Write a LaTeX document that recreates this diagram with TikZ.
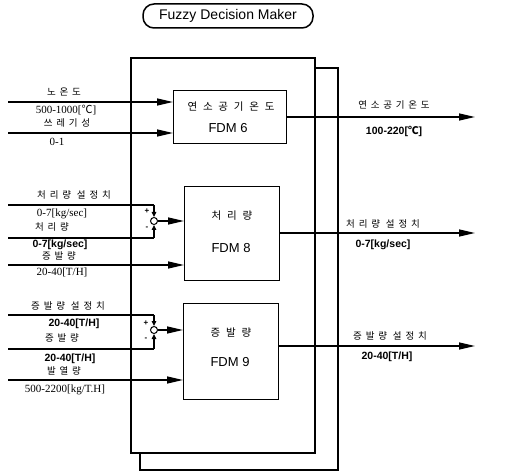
\documentclass[tikz,border=0pt]{standalone}
\usepackage{fontspec}
\setmainfont{Liberation Serif}
\setsansfont{Liberation Sans}
\newfontfamily\cjk[LetterSpace=40]{Noto Sans CJK KR}
\newfontfamily\cjkw[LetterSpace=55]{Noto Sans CJK KR}
\newfontfamily\cjkn{Noto Sans CJK KR}
\usetikzlibrary{arrows.meta}
\newcommand{\degc}{{\cjkn ℃}}
\begin{document}
\begin{tikzpicture}[x=1pt,y=-1pt,
  bigbox/.style={draw, line width=2pt, fill=white, inner sep=0pt, anchor=north west},
  fdm/.style={draw, line width=1.2pt, fill=white, inner sep=0pt, anchor=north west},
  conn/.style={line width=1.4pt, -{Triangle[length=16pt,width=7pt]}},
  sconn/.style={line width=1.2pt, -{Triangle[length=5pt,width=4.5pt]}},
  plain/.style={line width=1.4pt},
  kr/.style={font=\cjk\fontsize{9.5}{11}\selectfont, inner sep=0pt},
  krbox/.style={font=\cjkw\fontsize{10.5}{12}\selectfont, inner sep=0pt},
  snum/.style={font=\rmfamily\fontsize{11}{13}\selectfont, inner sep=0pt},
  bnum/.style={font=\sffamily\bfseries\fontsize{10.5}{12}\selectfont, inner sep=0pt},
  fdmlab/.style={font=\sffamily\fontsize{13}{15}\selectfont, inner sep=0pt},
  sign/.style={font=\sffamily\bfseries\fontsize{8}{9}\selectfont, inner sep=0pt}]
\useasboundingbox (0,0) rectangle (514,473);

% title
\node[draw, line width=1.5pt, rounded corners=11pt, minimum width=170pt, minimum height=24pt,
      font=\sffamily\fontsize{14}{16}\selectfont] (title) at (228,16) {Fuzzy Decision Maker};

% stacked frames
\node[bigbox, minimum width=198pt, minimum height=402pt] (back) at (139,67) {};
\node[bigbox, minimum width=184pt, minimum height=395pt] (main) at (130,57) {};

% FDM boxes
\node[fdm, minimum width=113pt, minimum height=53pt] (fdm6) at (173,90) {};
\node[fdm, minimum width=95pt, minimum height=94pt] (fdm8) at (184,186) {};
\node[fdm, minimum width=95pt, minimum height=96pt] (fdm9) at (183,303) {};

\node[krbox] (t6a) at (231,107) {연소공기온도};
\node[fdmlab] (t6b) at (228,128) {FDM 6};
\node[krbox] (t8a) at (232,216) {처리량};
\node[fdmlab] (t8b) at (231,248) {FDM 8};
\node[krbox] (t9a) at (231,333) {증발량};
\node[fdmlab] (t9b) at (230,362) {FDM 9};

% FDM 6 inputs
\coordinate (a1) at (8,102);
\coordinate (a2) at (8,133);
\draw[conn] (a1) -- (a1 -| fdm6.west);
\draw[conn] (a2) -- (a2 -| fdm6.west);
\node[kr] (la1) at (64,92) {노온도};
\node[snum] (la2) at (66,110) {500-1000[\degc]};
\node[kr] (la3) at (67,123) {쓰레기성};
\node[snum] (la4) at (57,142) {0-1};

% FDM 8 inputs
\node[draw, circle, line width=1pt, fill=white, minimum size=7pt, inner sep=0pt] (j8) at (154,221) {};
\coordinate (b1) at (8,205);
\coordinate (b2) at (8,238);
\coordinate (b3) at (8,265);
\draw[plain] (b1) -- (b1 -| j8.north);
\draw[sconn] (b1 -| j8.north) -- (j8.north);
\draw[plain] (b2) -- (b2 -| j8.south);
\draw[sconn] (b2 -| j8.south) -- (j8.south);
\draw[conn] (j8.east) -- (j8.east -| fdm8.west);
\draw[conn] (b3) -- (b3 -| fdm8.west);
\node[sign] (p8) at (147,211) {+};
\node[sign] (m8) at (147,228) {-};
\node[kr] (lb1) at (74,195) {처리량 설정치};
\node[snum] (lb2) at (62,214) {0-7[kg/sec]};
\node[kr] (lb3) at (52,227) {처리량};
\node[bnum] (lb4) at (60,244.5) {0-7[kg/sec]};
\node[kr] (lb5) at (59,256) {증발량};
\node[snum] (lb6) at (62,272) {20-40[T/H]};

% FDM 9 inputs
\node[draw, circle, line width=1pt, fill=white, minimum size=7pt, inner sep=0pt] (j9) at (154,330) {};
\coordinate (c1) at (8,315);
\coordinate (c2) at (8,349);
\coordinate (c3) at (8,380);
\draw[plain] (c1) -- (c1 -| j9.north);
\draw[sconn] (c1 -| j9.north) -- (j9.north);
\draw[plain] (c2) -- (c2 -| j9.south);
\draw[sconn] (c2 -| j9.south) -- (j9.south);
\draw[conn] (j9.east) -- (j9.east -| fdm9.west);
\draw[conn] (c3) -- (c3 -| fdm9.west);
\node[sign] (p9) at (146,323) {+};
\node[sign] (m9) at (146,339) {-};
\node[kr] (lc1) at (68,306) {증발량 설정치};
\node[bnum] (lc2) at (74,323.5) {20-40[T/H]};
\node[kr] (lc3) at (62,338) {증발량};
\node[bnum] (lc4) at (70,358.5) {20-40[T/H]};
\node[kr] (lc5) at (64,371) {발열량};
\node[snum] (lc6) at (65,390) {500-2200[kg/T.H]};

% outputs
\coordinate (o6) at (475,117);
\coordinate (o8) at (475,233);
\coordinate (o9) at (475,346);
\draw[conn] (fdm6.east |- o6) -- (o6);
\draw[conn] (fdm8.east |- o8) -- (o8);
\draw[conn] (fdm9.east |- o9) -- (o9);
\node[kr] (lo1) at (394,105) {연소공기온도};
\node[bnum] (lo2) at (394,131) {100-220[\degc]};
\node[kr] (lo3) at (383,224) {처리량 설정치};
\node[bnum] (lo4) at (383,245) {0-7[kg/sec]};
\node[kr] (lo5) at (390,336) {증발량 설정치};
\node[bnum] (lo6) at (387,357) {20-40[T/H]};
\end{tikzpicture}
\end{document}
